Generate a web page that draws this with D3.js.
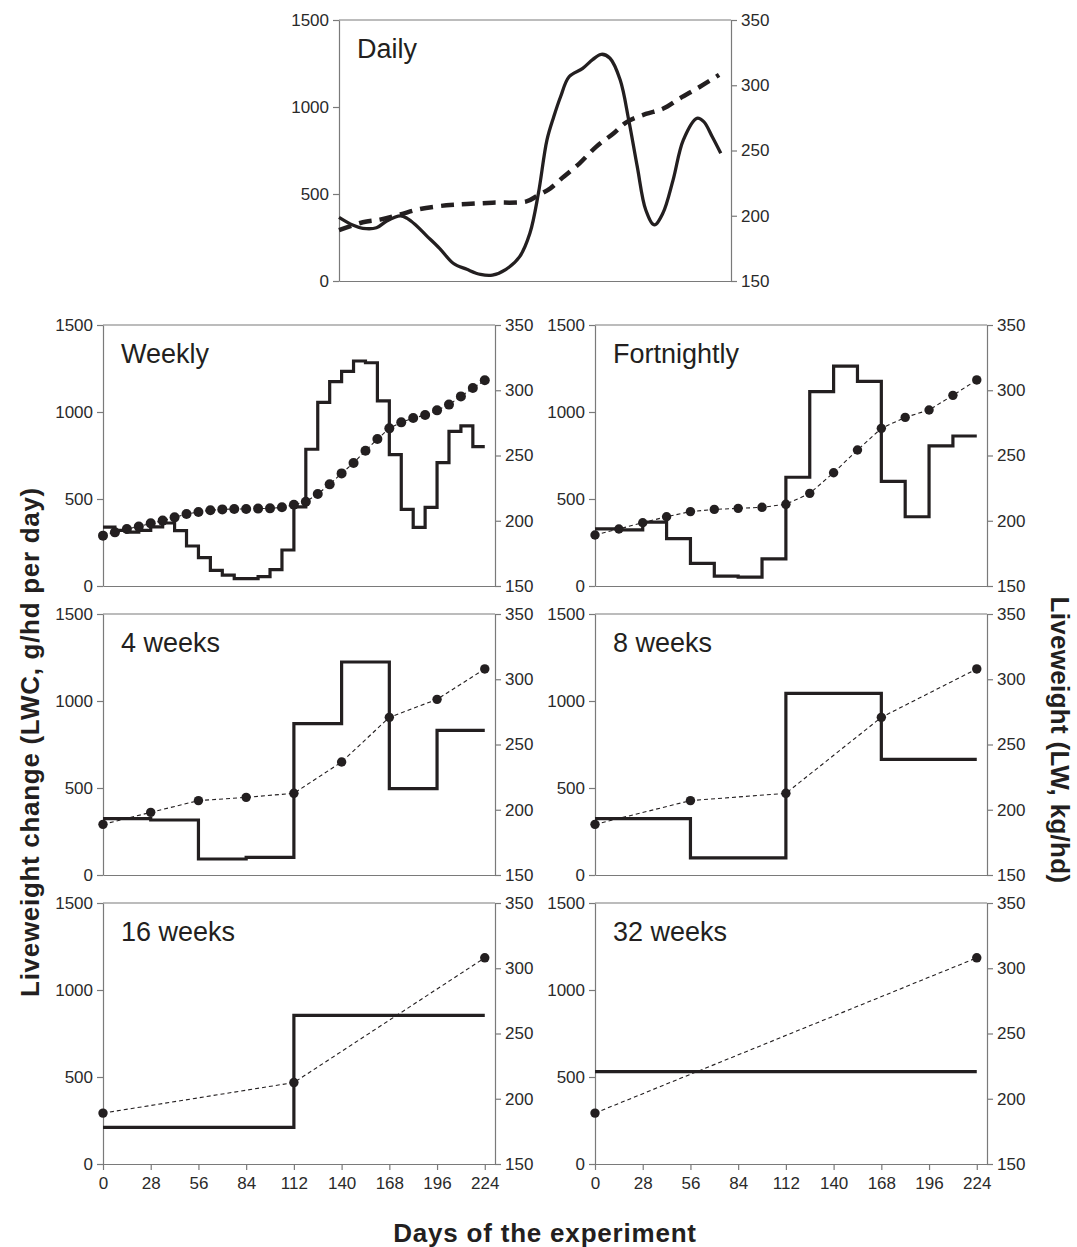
<!DOCTYPE html>
<meta charset="utf-8">
<script src="https://d3js.org/d3.v7.min.js"></script>
<body style="margin:0;background:#fff">
<script>
// values

// daily panel: smooth curves
var dailyDays = [0, 8, 14, 22, 28, 36, 40, 45, 51, 59, 67, 75, 83, 90, 98, 106, 112, 117, 122, 126, 130, 135, 143, 149, 154, 159, 165, 170, 175, 180, 185, 190, 196, 202, 210, 214, 219, 224];
var dailyLWC = [366, 322, 303, 306, 345, 374, 360, 322, 264, 188, 102, 67, 38, 34, 67, 140, 274, 504, 810, 944, 1059, 1174, 1222, 1274, 1303, 1280, 1155, 925, 657, 408, 322, 389, 580, 810, 935, 916, 829, 734];
var dailyLWDays = [0, 14, 24, 36, 47, 63, 75, 90, 110, 116, 124, 131, 141, 151, 161, 169, 180, 190, 200, 212, 223];
var dailyLW = [189, 195, 197, 201, 205, 208, 209, 210, 211, 215, 221, 229, 240, 253, 263, 272, 278, 282, 290, 299, 308];

// step panels: one LWC value per interval, one LW value per weighing
var weeklyLWC = [338, 320, 310, 320, 340, 362, 318, 230, 163, 90, 63, 42, 42, 54, 94, 207, 455, 786, 1055, 1175, 1233, 1293, 1283, 1064, 755, 440, 337, 452, 709, 889, 920, 801];
var weeklyLW = [188.6, 191.1, 193.7, 195.5, 198.0, 200.1, 202.6, 205.2, 206.7, 208.0, 208.7, 209.0, 209.0, 209.3, 209.5, 210.3, 212.3, 214.6, 220.5, 227.9, 236.3, 244.3, 253.7, 262.6, 270.8, 275.4, 278.7, 281.0, 284.6, 289.0, 295.3, 301.7, 307.6];

var fortnightLWC = [328, 322, 367, 272, 130, 57, 51, 156, 625, 1117, 1264, 1176, 601, 398, 805, 862];
var fortnightLW = [189.1, 193.7, 198.5, 203.1, 207.0, 208.7, 209.5, 210.3, 212.6, 221.0, 236.8, 254.2, 270.8, 279.2, 284.9, 296.1, 307.9];

var fourWeekLWC = [324, 316, 92, 101, 870, 1224, 496, 831];
var fourWeekLW = [188.8, 198.0, 207.0, 209.5, 212.6, 236.6, 270.8, 284.6, 307.9];

var eightWeekLWC = [324, 98, 1044, 665];
var eightWeekLW = [188.8, 207.0, 212.6, 270.8, 307.9];

var sixteenWeekLWC = [210, 854];
var sixteenWeekLW = [189.0, 212.4, 308.0];

var thirtyTwoWeekLWC = [531];
var thirtyTwoWeekLW = [189.0, 308.0];

var dayTicks = [0, 28, 56, 84, 112, 140, 168, 196, 224];
var lwcTicks = [0, 500, 1000, 1500];
var lwTicks = [150, 200, 250, 300, 350];

// layout
var panelW = 392, panelH = 261;
var ink = "#231f20", axisGrey = "#7a7a7a";
var font = "Arial, 'Liberation Sans', sans-serif";

var svg = d3.select("body").append("svg")
    .attr("width", 1077)
    .attr("height", 1247)
    .style("font-family", font);

var x = d3.scaleLinear().domain([0, 230]).range([0, panelW]);
var yL = d3.scaleLinear().domain([0, 1500]).range([panelH, 0]);
var yR = d3.scaleLinear().domain([150, 350]).range([panelH, 0]);
var fmt = d3.format("d");

// draws the frame, axes and label of one panel, returns its group
function drawPanel(left, top, label, showDays) {
  var g = svg.append("g").attr("transform", "translate(" + left + "," + top + ")");

  var ax = g.append("g").call(d3.axisLeft(yL).tickValues(lwcTicks).tickFormat(fmt)
      .tickSize(6).tickSizeOuter(0).tickPadding(4));
  styleAxis(ax);

  var ar = g.append("g").attr("transform", "translate(" + panelW + ",0)")
      .call(d3.axisRight(yR).tickValues(lwTicks).tickFormat(fmt)
      .tickSize(6).tickSizeOuter(0).tickPadding(4));
  styleAxis(ar);

  var ab = g.append("g").attr("transform", "translate(0," + panelH + ")")
      .call(d3.axisBottom(x).tickValues(showDays ? dayTicks : []).tickFormat(fmt)
      .tickSize(6).tickSizeOuter(0).tickPadding(7));
  styleAxis(ab);

  // top edge of the frame
  g.append("line")
      .attr("x1", 0).attr("x2", panelW)
      .attr("y1", 0).attr("y2", 0)
      .attr("stroke", axisGrey).attr("stroke-width", 1.2);

  g.append("text")
      .attr("x", 18).attr("y", 38)
      .style("font-size", "27px")
      .attr("fill", ink)
      .text(label);

  return g;
}

function styleAxis(a) {
  a.attr("font-family", font);
  a.select(".domain").attr("stroke", axisGrey).attr("stroke-width", 1.2);
  a.selectAll(".tick line").attr("stroke", axisGrey).attr("stroke-width", 1.2);
  a.selectAll(".tick text").attr("fill", "#2a2a2a").style("font-size", "17px");
}

// step line for LWC plus dashed line with dots for LW
function drawSteps(g, lwc, lw, step, dotR) {
  var pts = lwc.map(function(v, i) { return [i * step, v]; });
  pts.push([224, lwc[lwc.length - 1]]);

  g.append("path")
      .datum(pts)
      .attr("fill", "none")
      .attr("stroke", ink)
      .attr("stroke-width", 3.2)
      .attr("d", d3.line()
          .x(function(d) { return x(d[0]); })
          .y(function(d) { return yL(d[1]); })
          .curve(d3.curveStepAfter));

  var lwStep = 224 / (lw.length - 1);
  var lwPts = lw.map(function(v, i) { return [i * lwStep, v]; });

  g.append("path")
      .datum(lwPts)
      .attr("fill", "none")
      .attr("stroke", ink)
      .attr("stroke-width", 1.1)
      .attr("stroke-dasharray", "4,3")
      .attr("d", d3.line()
          .x(function(d) { return x(d[0]); })
          .y(function(d) { return yR(d[1]); }));

  g.selectAll("circle.lw")
      .data(lwPts)
    .enter().append("circle")
      .attr("class", "lw")
      .attr("cx", function(d) { return x(d[0]); })
      .attr("cy", function(d) { return yR(d[1]); })
      .attr("r", dotR)
      .attr("fill", ink);
}

// Daily
var gDaily = drawPanel(339, 20, "Daily", false);
gDaily.append("path")
    .datum(dailyDays.map(function(d, i) { return [d, dailyLWC[i]]; }))
    .attr("fill", "none")
    .attr("stroke", ink)
    .attr("stroke-width", 3.3)
    .attr("d", d3.line()
        .x(function(d) { return x(d[0]); })
        .y(function(d) { return yL(d[1]); })
        .curve(d3.curveCatmullRom.alpha(0.5)));
gDaily.append("path")
    .datum(dailyLWDays.map(function(d, i) { return [d, dailyLW[i]]; }))
    .attr("fill", "none")
    .attr("stroke", ink)
    .attr("stroke-width", 4.5)
    .attr("stroke-dasharray", "13,8")
    .attr("d", d3.line()
        .x(function(d) { return x(d[0]); })
        .y(function(d) { return yR(d[1]); })
        .curve(d3.curveCatmullRom.alpha(0.5)));

drawSteps(drawPanel(103, 325, "Weekly", false), weeklyLWC, weeklyLW, 7, 5);
drawSteps(drawPanel(595, 325, "Fortnightly", false), fortnightLWC, fortnightLW, 14, 4.7);
drawSteps(drawPanel(103, 614, "4 weeks", false), fourWeekLWC, fourWeekLW, 28, 4.7);
drawSteps(drawPanel(595, 614, "8 weeks", false), eightWeekLWC, eightWeekLW, 56, 4.7);
drawSteps(drawPanel(103, 903, "16 weeks", true), sixteenWeekLWC, sixteenWeekLW, 112, 4.7);
drawSteps(drawPanel(595, 903, "32 weeks", true), thirtyTwoWeekLWC, thirtyTwoWeekLW, 224, 4.7);

// axis titles
svg.append("text")
    .attr("transform", "translate(39,742) rotate(-90)")
    .attr("text-anchor", "middle")
    .style("font-size", "26px")
    .style("font-weight", "bold")
    .style("letter-spacing", "0.7px")
    .attr("fill", ink)
    .text("Liveweight change (LWC, g/hd per day)");

svg.append("text")
    .attr("transform", "translate(1051,740) rotate(90)")
    .attr("text-anchor", "middle")
    .style("font-size", "26px")
    .style("font-weight", "bold")
    .style("letter-spacing", "0.3px")
    .attr("fill", ink)
    .text("Liveweight (LW, kg/hd)");

svg.append("text")
    .attr("x", 545).attr("y", 1242)
    .attr("text-anchor", "middle")
    .style("font-size", "26px")
    .style("font-weight", "bold")
    .style("letter-spacing", "0.8px")
    .attr("fill", ink)
    .text("Days of the experiment");
</script>
</body>
